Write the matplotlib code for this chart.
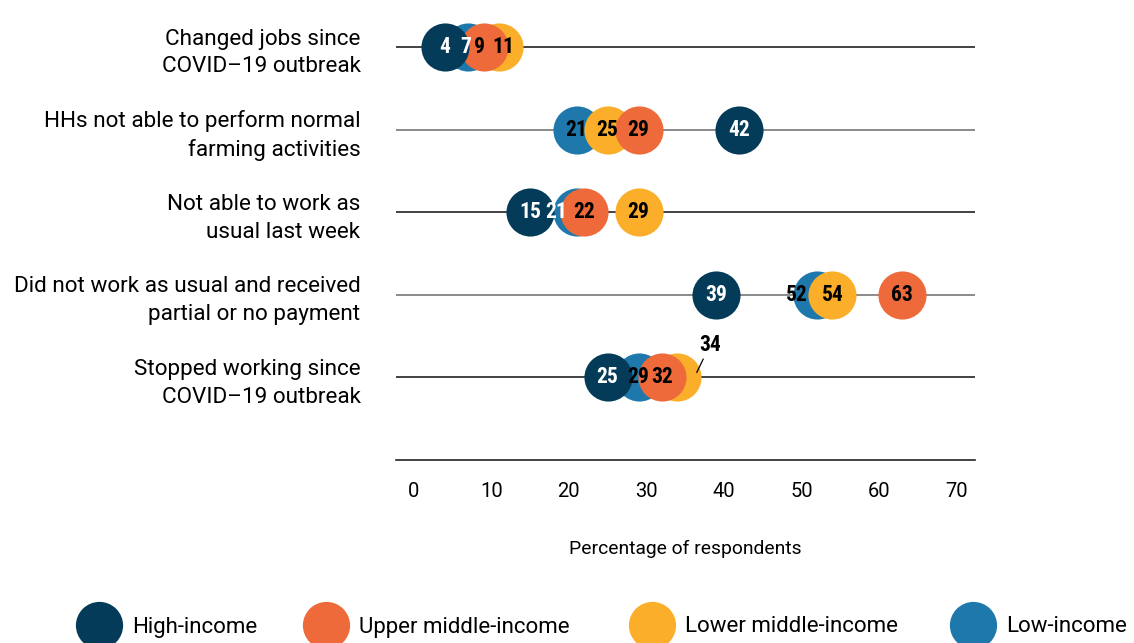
import matplotlib.pyplot as plt
from matplotlib.lines import Line2D

# survey items, top to bottom
categories = [
    "Changed jobs since\nCOVID\u201319 outbreak",
    "HHs not able to perform normal\nfarming activities",
    "Not able to work as\nusual last week",
    "Did not work as usual and received\npartial or no payment",
    "Stopped working since\nCOVID\u201319 outbreak",
]

groups = ["High-income", "Upper middle-income", "Lower middle-income", "Low-income"]
colors = ["#033b59", "#ee6a3a", "#fbae29", "#1f78ab"]

high_income = [4, 42, 15, 39, 25]
upper_middle = [9, 29, 22, 63, 32]
lower_middle = [11, 25, 29, 54, 34]
low_income = [7, 21, 21, 52, 29]

values = [high_income, upper_middle, lower_middle, low_income]
# label colour for each value
label_colors = [
    ["white"] * 5,
    ["black"] * 5,
    ["black"] * 5,
    ["white", "black", "white", "black", "black"],
]
# small sideways nudges so crowded labels stay readable
label_dx = [
    [0, 0, 0, 0, 0],
    [-0.5, 0, 0, 0, 0],
    [0.6, 0, 0, 0, 0],
    [-0.3, 0, -2.6, -2.6, 0],
]

ticks = [0, 10, 20, 30, 40, 50, 60, 70]

txt_font = ["Roboto", "DejaVu Sans"]
num_font = ["Roboto Condensed", "Noto Sans Condensed", "Liberation Sans Narrow",
            "Open Sans Condensed", "Noto Sans", "DejaVu Sans"]

fig = plt.figure(figsize=(11.34, 6.43), dpi=100)
ax = fig.add_axes([396 / 1134, 183 / 643, 579 / 1134, 450 / 643])

n = len(categories)
rows = list(range(n - 1, -1, -1))

for r, c in zip(rows, ["#222222", "#777777", "#222222", "#777777", "#222222"]):
    ax.axhline(r, color=c, lw=1.2, zorder=1)

# stacking: high on top, then upper middle, lower middle, low at the bottom
zorders = [5, 4, 3, 2]
for vals, col, z in zip(values, colors, zorders):
    ax.scatter(vals, rows, s=1200, color=col, zorder=z, clip_on=False,
               linewidths=0)

# value labels (34 in the last row is pushed out with a leader)
num_kw = dict(ha="center", va="center", fontsize=15.5, fontweight="bold",
              family=num_font, fontstretch="condensed", zorder=10)
for gi, vals in enumerate(values):
    for i, (v, r) in enumerate(zip(vals, rows)):
        if gi == 2 and i == 4:
            ax.annotate(str(v), xy=(v + 2.5, r + 0.06), xytext=(v + 4.2, r + 0.39),
                        color="black",
                        arrowprops=dict(arrowstyle="-", color="black", lw=0.9,
                                        shrinkA=0, shrinkB=0),
                        **num_kw)
            continue
        ax.text(v + label_dx[gi][i], r, str(v), color=label_colors[gi][i], **num_kw)

ax.set_xlim(-2.3, 72.4)
ax.set_ylim(-1, n - 1 + 0.45)
ax.set_yticks(rows)
ax.set_yticklabels(categories, family=txt_font, fontsize=16.2, linespacing=1.42)
ax.tick_params(axis="y", length=0, pad=25.5)
ax.set_xticks(ticks)
ax.set_xticklabels([str(t) for t in ticks], family=txt_font, fontsize=14.5)
ax.tick_params(axis="x", length=0, pad=16)
ax.set_xlabel("Percentage of respondents", family=txt_font, fontsize=13.9,
              labelpad=28)
for s in ["top", "right", "left"]:
    ax.spines[s].set_visible(False)
ax.spines["bottom"].set_color("#222222")
ax.spines["bottom"].set_linewidth(1.2)

# one legend entry per group, spread along the bottom edge
legend_x = [77, 304, 630, 951]
for col, name, lx in zip(colors, groups, legend_x):
    h = Line2D([], [], marker="o", ls="", markersize=34, color=col,
               markeredgewidth=0)
    fig.legend([h], [name], loc="center left",
               bbox_to_anchor=(lx / 1134, 16 / 643), frameon=False,
               borderpad=0, borderaxespad=0, handletextpad=0.48,
               prop={"family": txt_font, "size": 16})

fig.savefig("out.png", dpi=100)
